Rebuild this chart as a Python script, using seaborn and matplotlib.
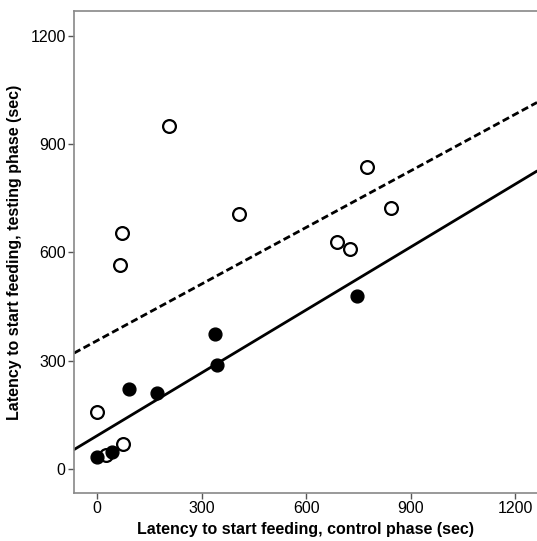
import matplotlib
matplotlib.use("Agg")
import matplotlib.pyplot as plt
import seaborn as sns
import pandas as pd

# open circles (one group)
open_x = [206, 407, 72, 66, 687, 727, 775, 842, 1, 75, 26]
open_y = [950, 707, 654, 565, 628, 609, 837, 722, 159, 70, 40]

# filled circles (other group)
filled_x = [1, 44, 92, 173, 338, 345, 747]
filled_y = [33, 48, 222, 212, 374, 288, 480]

ticks = [0, 300, 600, 900, 1200]

df_open = pd.DataFrame({"control": open_x, "testing": open_y})
df_filled = pd.DataFrame({"control": filled_x, "testing": filled_y})

sns.set_style("white")
plt.rcParams["font.family"] = ["Liberation Sans", "DejaVu Sans"]

fig = plt.figure(figsize=(5.37, 5.41), dpi=100)
ax = fig.add_axes([74 / 537, 1 - 493 / 541, 1 - 74 / 537, (493 - 11) / 541])
ax.set_xlim(-66, 1262)
ax.set_ylim(-66, 1268)

# regression lines extend across the axes (truncate=False)
sns.regplot(data=df_open, x="control", y="testing", ax=ax, ci=None, truncate=False,
            scatter=False, line_kws={"color": "black", "lw": 2.0, "ls": (0, (2.6, 1.3))})
sns.regplot(data=df_filled, x="control", y="testing", ax=ax, ci=None, truncate=False,
            scatter=False, line_kws={"color": "black", "lw": 2.0})

sns.scatterplot(data=df_open, x="control", y="testing", ax=ax, s=85,
                facecolor="white", edgecolor="black", linewidth=1.6, zorder=3)
sns.scatterplot(data=df_filled, x="control", y="testing", ax=ax, s=85,
                color="black", edgecolor="black", linewidth=1.0, zorder=3)

ax.set_xlim(-66, 1262)
ax.set_ylim(-66, 1268)
ax.set_xticks(ticks)
ax.set_yticks(ticks)
ax.tick_params(axis="both", direction="out", length=4, width=1, color="#555555",
               labelsize=11.5, labelcolor="black", bottom=True, left=True, pad=2)

for side in ["left", "bottom", "top"]:
    ax.spines[side].set_color("#888888")
    ax.spines[side].set_linewidth(1.2)
ax.spines["right"].set_visible(False)

ax.set_xlabel("Latency to start feeding, control phase (sec)", fontsize=11.5,
              fontweight="bold", color="black", labelpad=4)
ax.set_ylabel("Latency to start feeding, testing phase (sec)", fontsize=11.5,
              fontweight="bold", color="black", labelpad=6)

fig.savefig("out.png", dpi=100)
